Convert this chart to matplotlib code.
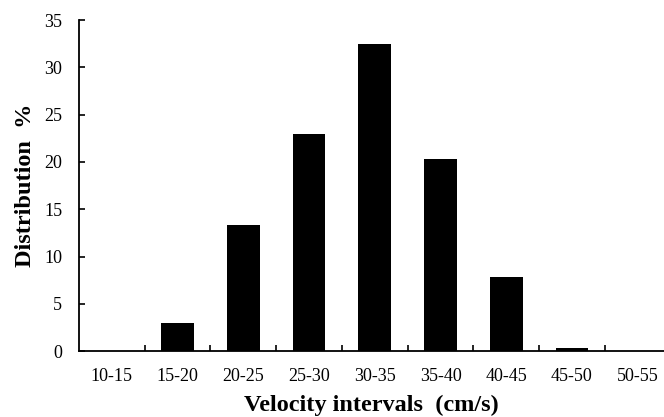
import numpy as np
import matplotlib
matplotlib.use("Agg")
import matplotlib.pyplot as plt

# data
intervals = ['10-15', '15-20', '20-25', '25-30', '30-35', '35-40', '40-45', '45-50', '50-55']
distribution = [0, 3.0, 13.3, 23.0, 32.5, 20.3, 7.8, 0.3, 0]

plt.rcParams['font.family'] = ['Liberation Serif', 'DejaVu Serif']

fig = plt.figure(figsize=(6.64, 4.17), dpi=100)
ax = fig.add_axes([0.119, 0.158, 0.881, 0.794])

x = np.arange(len(intervals))
ax.bar(x, distribution, width=0.5, color='black')

ax.set_xlim(-0.5, 8.4)
ax.set_ylim(0, 35)
ax.set_yticks(range(0, 36, 5))
ax.set_xticks(x)
ax.set_xticklabels(intervals, fontsize=13)
ax.set_xticks(x[:-1] + 0.5, minor=True)
ax.tick_params(axis='x', which='major', length=0, pad=12)
ax.tick_params(axis='x', which='minor', direction='in', length=4, width=1.2)
ax.tick_params(axis='y', direction='in', length=4, width=1.2, labelsize=13, pad=12)

for s in ['top', 'right']:
    ax.spines[s].set_visible(False)
for s in ['left', 'bottom']:
    ax.spines[s].set_linewidth(1.3)

ax.set_xlabel('Velocity intervals  (cm/s)', fontsize=17.5, fontweight='bold', labelpad=7)
ax.set_ylabel('Distribution  %', fontsize=17.5, fontweight='bold', labelpad=6)

fig.savefig('out.png', dpi=100)
